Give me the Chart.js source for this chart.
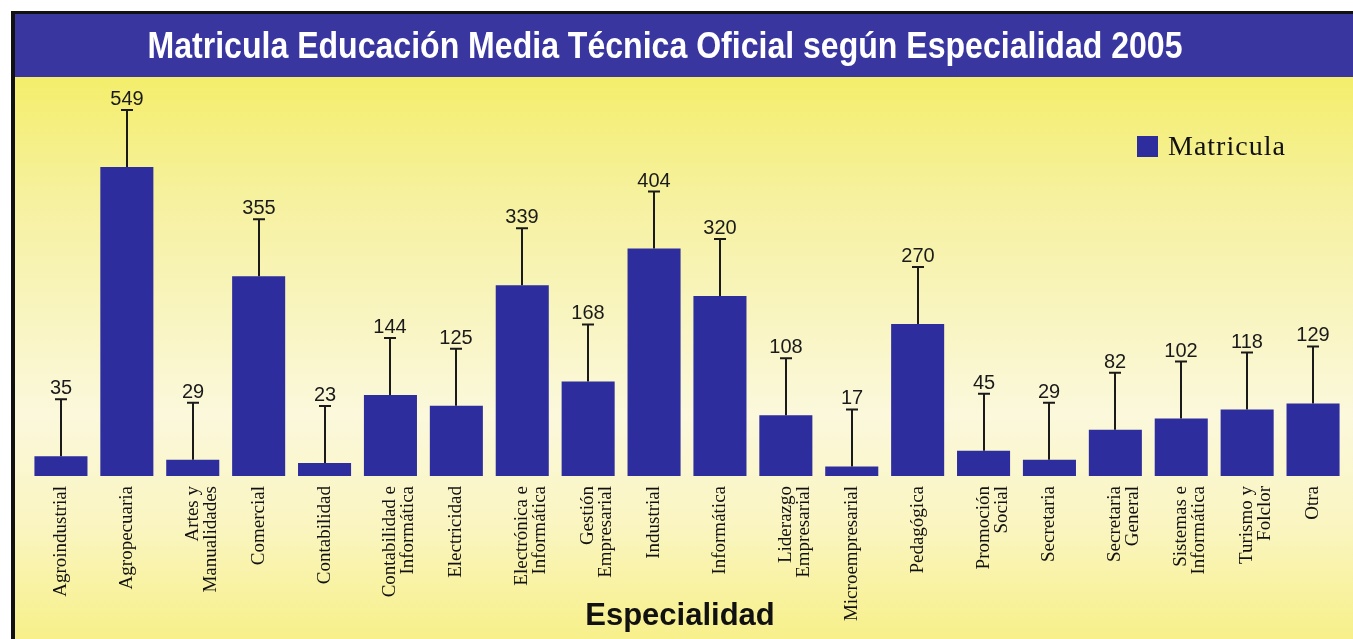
<!DOCTYPE html>
<html>
<head>
<meta charset="utf-8">
<script src="https://cdn.jsdelivr.net/npm/chart.js@4.4.0/dist/chart.umd.min.js"></script>
<style>
  html, body { margin: 0; padding: 0; background: #ffffff; overflow: hidden; }
  #wrap { position: absolute; left: 0; top: 0; width: 1353px; height: 639px; }
</style>
</head>
<body>
<div id="wrap"><canvas id="c" width="1353" height="639"></canvas></div>
<script>
const chartTitle = 'Matricula Educación Media Técnica Oficial según Especialidad 2005';
const axisTitle = 'Especialidad';
const seriesName = 'Matricula';
const categories = [
  'Agroindustrial', 'Agropecuaria', ['Artes y', 'Manualidades'], 'Comercial', 'Contabilidad',
  ['Contabilidad e', 'Informática'], 'Electricidad', ['Electrónica e', 'Informática'],
  ['Gestión', 'Empresarial'], 'Industrial', 'Informática', ['Liderazgo', 'Empresarial'],
  'Microempresarial', 'Pedagógica', ['Promoción', 'Social'], 'Secretaria',
  ['Secretaria', 'General'], ['Sistemas e', 'Informática'], ['Turismo y', 'Folclor'], 'Otra'
];
const matricula = [35, 549, 29, 355, 23, 144, 125, 339, 168, 404, 320, 108, 17, 270, 45, 29, 82, 102, 118, 129];

const BAR = '#2e2d9e';

function drawScaledText(ctx, text, cx, y, targetWidth) {
  const w = ctx.measureText(text).width;
  const sx = Math.min(1, targetWidth / w);
  ctx.save();
  ctx.translate(cx, y);
  ctx.scale(sx, 1);
  ctx.textAlign = 'center';
  ctx.fillText(text, 0, 0);
  ctx.restore();
}

const framePlugin = {
  id: 'frame',
  beforeDraw(chart) {
    const ctx = chart.ctx;
    const W = chart.width, H = chart.height;
    ctx.save();
    ctx.fillStyle = '#ffffff';
    ctx.fillRect(0, 0, W, H);
    const g = ctx.createLinearGradient(0, 78, 0, H);
    g.addColorStop(0, '#f4ee6c');
    g.addColorStop(0.22, '#f6f1a0');
    g.addColorStop(0.6, '#fbf8dc');
    g.addColorStop(0.8, '#faf5c0');
    g.addColorStop(1, '#f7f08a');
    ctx.fillStyle = g;
    ctx.fillRect(14, 77, W - 14, H - 77);
    ctx.fillStyle = '#3936a0';
    ctx.fillRect(14, 14, W - 14, 63);
    ctx.fillStyle = '#111111';
    ctx.fillRect(11, 11, W - 11, 3);
    ctx.fillRect(11, 11, 4, H - 11);
    // title
    ctx.fillStyle = '#ffffff';
    ctx.font = 'bold 36px "Liberation Sans", Arial, sans-serif';
    ctx.textBaseline = 'alphabetic';
    drawScaledText(ctx, chartTitle, 665, 58, 1035);
    ctx.restore();
  },
  afterDraw(chart) {
    const ctx = chart.ctx;
    ctx.save();
    ctx.fillStyle = '#111111';
    ctx.font = 'bold 31px "Liberation Sans", Arial, sans-serif';
    ctx.textAlign = 'center';
    ctx.textBaseline = 'alphabetic';
    ctx.fillText(axisTitle, 680, 625);
    // legend
    const ds = chart.data.datasets[0];
    ctx.fillStyle = ds.backgroundColor;
    ctx.fillRect(1137, 136, 21, 21);
    ctx.fillStyle = '#111111';
    ctx.font = '28px "Liberation Serif", "Times New Roman", serif';
    ctx.textAlign = 'left';
    ctx.letterSpacing = '1px';
    ctx.fillText(ds.label, 1168, 155);
    ctx.restore();
  }
};

const whiskerPlugin = {
  id: 'whisker',
  afterDatasetsDraw(chart) {
    const ctx = chart.ctx;
    const meta = chart.getDatasetMeta(0);
    const data = chart.data.datasets[0].data;
    ctx.save();
    ctx.strokeStyle = '#1a1a1a';
    ctx.lineWidth = 2;
    ctx.fillStyle = '#1a1a1a';
    ctx.font = '20px "Liberation Sans", Arial, sans-serif';
    ctx.textAlign = 'center';
    ctx.textBaseline = 'alphabetic';
    meta.data.forEach((bar, i) => {
      const x = Math.round(bar.x);
      const top = bar.y;
      const capY = top - 57;
      ctx.beginPath();
      ctx.moveTo(x, top);
      ctx.lineTo(x, capY);
      ctx.moveTo(x - 6, capY);
      ctx.lineTo(x + 6, capY);
      ctx.stroke();
      ctx.fillText(String(data[i]), x, capY - 5);
    });
    ctx.restore();
  }
};

new Chart(document.getElementById('c'), {
  type: 'bar',
  data: {
    labels: categories,
    datasets: [{
      label: seriesName,
      data: matricula,
      backgroundColor: BAR,
      borderWidth: 0,
      categoryPercentage: 1.0,
      barPercentage: 0.805
    }]
  },
  options: {
    responsive: false,
    animation: false,
    devicePixelRatio: 1,
    layout: { padding: { left: 28, right: 7, top: 82, bottom: 0 } },
    plugins: {
      title: { display: false },
      tooltip: { enabled: false },
      legend: { display: false }
    },
    scales: {
      x: {
        offset: true,
        grid: { display: false, drawTicks: false },
        border: { display: false },
        ticks: {
          autoSkip: false,
          minRotation: 90,
          maxRotation: 90,
          padding: 10,
          color: '#111111',
          font: { family: '"Liberation Serif", "Times New Roman", serif', size: 19, lineHeight: 0.95 }
        },
        afterFit(s) { s.height = 163; }
      },
      y: {
        display: false,
        min: 0,
        max: 700
      }
    }
  },
  plugins: [framePlugin, whiskerPlugin]
});
</script>
</body>
</html>
